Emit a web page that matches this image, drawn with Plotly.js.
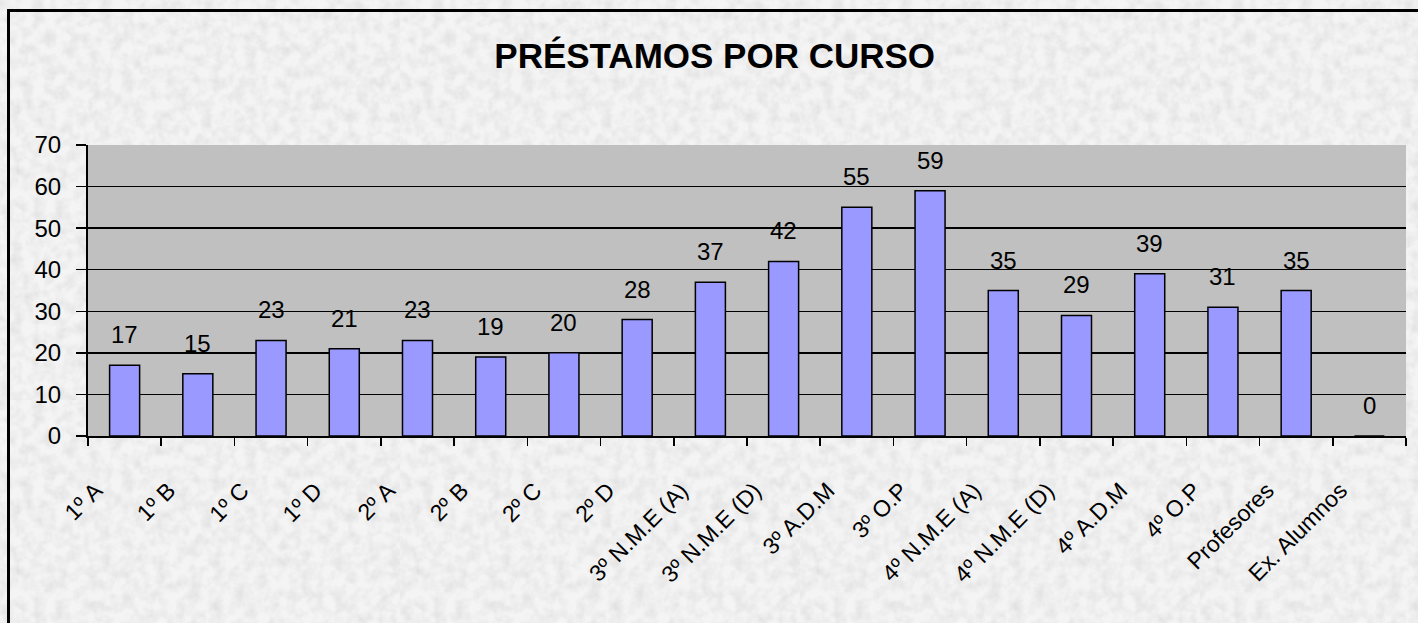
<!DOCTYPE html>
<html>
<head>
<meta charset="utf-8">
<script src="https://cdn.plot.ly/plotly-3.0.1.min.js"></script>
<style>
  html, body { margin: 0; padding: 0; width: 1418px; height: 623px; overflow: hidden; }
  body {
    background-color: #eeeeee;
    background-image: url("data:image/svg+xml;utf8,<svg xmlns='http://www.w3.org/2000/svg' width='400' height='400'><filter id='n'><feTurbulence type='fractalNoise' baseFrequency='0.09' numOctaves='3' seed='4' stitchTiles='stitch'/><feColorMatrix type='matrix' values='0 0 0 0 0.6  0 0 0 0 0.6  0 0 0 0 0.6  0.8 0 0 0 -0.28'/></filter><rect width='400' height='400' fill='%23f4f4f4'/><rect width='400' height='400' filter='url(%23n)'/></svg>");
  }
  #frame { position: absolute; left: 7px; top: 9px; width: 1420px; height: 630px; border-left: 3px solid #000; border-top: 3px solid #000; box-sizing: border-box; pointer-events: none; }
  #chart { position: absolute; left: 0; top: 0; width: 1418px; height: 623px; }
</style>
</head>
<body>
<div id="chart"></div>
<div id="frame"></div>
<script>
const categories = ["1º A", "1º B", "1º C", "1º D", "2º A", "2º B", "2º C", "2º D",
  "3º N.M.E (A)", "3º N.M.E (D)", "3º A.D.M", "3º O.P",
  "4º N.M.E (A)", "4º N.M.E (D)", "4º A.D.M", "4º O.P", "Profesores", "Ex. Alumnos"];
const prestamos = [17, 15, 23, 21, 23, 19, 20, 28, 37, 42, 55, 59, 35, 29, 39, 31, 35, 0];
const yTicks = [0, 10, 20, 30, 40, 50, 60, 70];
const chartTitle = "PRÉSTAMOS POR CURSO";

const font = "Liberation Sans, Arial, sans-serif";

const trace = {
  type: "bar",
  x: categories,
  y: prestamos,
  marker: { color: "#9999FF", line: { color: "#000000", width: 1.5 } },
  hoverinfo: "x+y"
};

const labels = categories.map((c, i) => ({
  x: c, y: prestamos[i], xref: "x", yref: "y",
  text: String(prestamos[i]), showarrow: false,
  yanchor: "bottom", yshift: 15,
  font: { family: font, size: 24, color: "#000" }
}));

const layout = {
  width: 1418, height: 623,
  paper_bgcolor: "rgba(0,0,0,0)",
  plot_bgcolor: "#C0C0C0",
  margin: { l: 88, r: 12, t: 145, b: 187 },
  bargap: 0.59,
  showlegend: false,
  title: {
    text: chartTitle,
    font: { family: font, size: 35, color: "#000", weight: "bold" },
    x: 0.504, xref: "container", xanchor: "center",
    y: 0.91, yref: "container", yanchor: "middle"
  },
  xaxis: {
    type: "category",
    tickson: "boundaries",
    ticks: "outside", ticklen: 8, tickwidth: 1.5, tickcolor: "#000",
    showline: true, linecolor: "#000", linewidth: 2,
    showgrid: false,
    tickangle: -45,
    ticklabelstandoff: 30,
    ticklabelshift: -29,
    tickfont: { family: font, size: 23, color: "#000" },
    fixedrange: true
  },
  yaxis: {
    range: [0, 70],
    tickvals: yTicks,
    ticks: "outside", ticklen: 10, tickwidth: 1.5, tickcolor: "#000",
    showline: true, linecolor: "#000", linewidth: 2,
    showgrid: true, gridcolor: "#000", gridwidth: 1.5,
    zeroline: false,
    ticklabelstandoff: 10,
    tickfont: { family: font, size: 24, color: "#000" },
    fixedrange: true
  },
  annotations: labels
};

Plotly.newPlot("chart", [trace], layout, { displayModeBar: false, staticPlot: true });
</script>
</body>
</html>
